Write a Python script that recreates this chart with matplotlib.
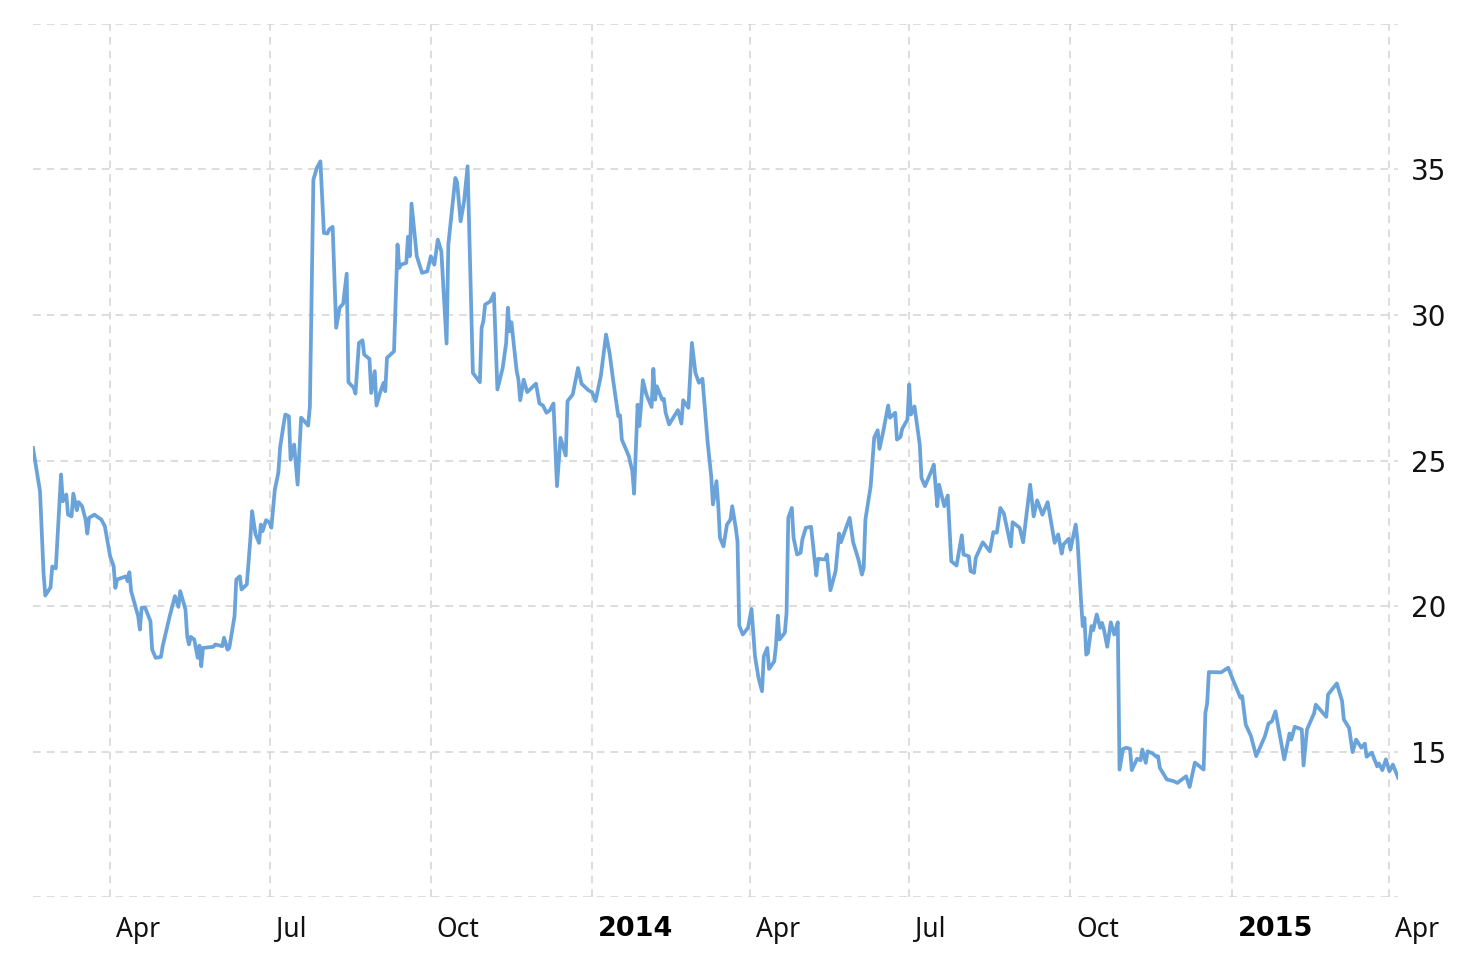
import matplotlib
matplotlib.use("Agg")
import matplotlib.pyplot as plt
import matplotlib.transforms as mtransforms
import pandas as pd

# Series data: trading day offset from 2013-02-15 and closing value
start_date = "2013-02-15"
day_offsets = [
    1, 5, 7, 8, 11, 12, 14, 17, 18, 20, 21, 23, 24, 26, 27, 29, 31, 32, 33, 36,
    40, 42, 45, 47, 48, 49, 54, 55, 56, 57, 61, 62, 63, 65, 68, 69, 71, 74, 75, 77,
    79, 82, 84, 85, 88, 89, 90, 91, 93, 95, 96, 97, 98, 104, 105, 109, 110, 112, 113, 116,
    117, 119, 120, 123, 125, 126, 128, 130, 131, 132, 134, 136, 137, 139, 141, 142, 144, 145, 147, 148,
    150, 152, 154, 155, 158, 159, 161, 163, 165, 167, 169, 170, 172, 174, 176, 178, 180, 181, 184, 185,
    187, 189, 190, 193, 194, 196, 197, 199, 201, 202, 203, 207, 209, 210, 211, 214, 215, 216, 217, 220,
    223, 226, 228, 230, 232, 234, 237, 238, 240, 242, 243, 245, 247, 249, 252, 256, 257, 258, 259, 262,
    264, 266, 269, 271, 272, 273, 274, 277, 278, 279, 281, 283, 288, 290, 292, 294, 296, 298, 300, 302,
    305, 306, 309, 312, 314, 318, 320, 322, 325, 328, 330, 332, 335, 336, 337, 341, 343, 344, 346, 347,
    348, 349, 351, 354, 355, 356, 357, 360, 361, 362, 364, 369, 371, 372, 375, 377, 379, 381, 383, 386,
    388, 389, 391, 392, 393, 395, 397, 399, 400, 402, 403, 404, 406, 409, 411, 413, 415, 417, 418, 420,
    421, 424, 425, 426, 427, 430, 431, 432, 434, 435, 437, 439, 440, 442, 445, 448, 449, 453, 454, 456,
    459, 461, 462, 467, 469, 472, 474, 475, 476, 479, 481, 483, 484, 486, 489, 490, 493, 494, 496, 497,
    500, 501, 502, 504, 507, 508, 510, 514, 515, 517, 518, 521, 523, 525, 528, 531, 532, 535, 536, 538,
    539, 543, 547, 549, 551, 553, 555, 559, 560, 564, 566, 570, 572, 574, 577, 580, 584, 586, 588, 589,
    592, 593, 596, 597, 599, 600, 601, 602, 603, 605, 606, 608, 610, 611, 612, 614, 616, 618, 620, 621,
    623, 625, 627, 628, 631, 633, 634, 636, 637, 640, 642, 643, 644, 648, 652, 654, 659, 661, 664, 669,
    670, 671, 672, 679, 683, 686, 690, 691, 693, 696, 699, 704, 706, 708, 710, 715, 718, 719, 721, 725,
    726, 728, 732, 733, 739, 740, 745, 748, 749, 752, 754, 756, 759, 761, 762, 765, 768, 769, 771, 773,
    775, 777, 780,
]
values = [
    25.43, 23.94, 21.15, 20.36, 20.64, 21.36, 21.29, 24.52, 23.60, 23.83, 23.14, 23.08, 23.86, 23.29, 23.57, 23.43, 22.97, 22.49, 23.03, 23.14,
    22.97, 22.74, 21.71, 21.37, 20.62, 20.91, 21.02, 20.85, 21.16, 20.51, 19.65, 19.19, 19.94, 19.94, 19.48, 18.50, 18.22, 18.25, 18.62, 19.13,
    19.65, 20.34, 19.97, 20.51, 19.88, 18.96, 18.68, 18.94, 18.85, 18.22, 18.64, 17.93, 18.56, 18.60, 18.68, 18.62, 18.91, 18.50, 18.56, 19.65,
    20.91, 21.02, 20.57, 20.74, 22.28, 23.26, 22.46, 22.17, 22.80, 22.57, 22.95, 22.86, 22.69, 24.00, 24.58, 25.45, 26.24, 26.58, 26.52, 25.03,
    25.55, 24.17, 26.47, 26.41, 26.20, 26.86, 34.65, 35.06, 35.28, 32.82, 32.80, 32.94, 33.03, 29.56, 30.25, 30.39, 31.42, 27.69, 27.50, 27.30,
    29.04, 29.13, 28.64, 28.49, 27.32, 28.07, 26.89, 27.32, 27.67, 27.38, 28.53, 28.75, 32.42, 31.62, 31.73, 31.79, 32.69, 32.02, 33.83, 32.02,
    31.45, 31.50, 32.02, 31.73, 32.59, 32.19, 29.02, 32.42, 33.56, 34.71, 34.56, 33.22, 33.91, 35.11, 28.01, 27.69, 29.56, 29.79, 30.36, 30.47,
    30.74, 27.44, 28.18, 29.04, 30.25, 29.44, 29.75, 28.07, 27.78, 27.07, 27.78, 27.35, 27.64, 26.96, 26.89, 26.64, 26.73, 26.96, 24.12, 25.78,
    25.17, 27.04, 27.27, 28.18, 27.64, 27.41, 27.35, 27.04, 27.90, 29.33, 28.70, 27.78, 26.52, 26.55, 25.72, 25.15, 24.63, 23.86, 26.92, 26.18,
    26.92, 27.76, 27.27, 26.84, 28.15, 27.09, 27.55, 27.09, 27.12, 26.64, 26.24, 26.73, 26.27, 27.07, 26.81, 29.04, 28.01, 27.67, 27.81, 25.61,
    24.46, 23.49, 24.29, 23.49, 22.34, 22.05, 22.80, 22.97, 23.43, 22.69, 22.23, 19.33, 19.02, 19.25, 19.90, 18.27, 17.53, 17.07, 18.27, 18.56,
    17.84, 18.10, 18.68, 19.67, 18.85, 19.08, 19.77, 23.03, 23.37, 22.34, 21.77, 21.83, 22.28, 22.69, 22.72, 21.05, 21.62, 21.60, 21.77, 20.54,
    21.20, 22.49, 22.19, 23.03, 22.19, 21.60, 21.08, 21.31, 22.97, 24.12, 25.78, 26.04, 25.40, 25.95, 26.89, 26.47, 26.64, 25.72, 25.81, 26.09,
    26.41, 27.61, 26.58, 26.86, 25.55, 24.40, 24.12, 24.69, 24.86, 23.43, 24.17, 23.43, 23.80, 21.54, 21.39, 22.43, 21.77, 21.71, 21.20, 21.14,
    21.66, 22.19, 21.88, 22.54, 22.52, 23.37, 23.18, 22.05, 22.88, 22.69, 22.19, 24.17, 23.08, 23.63, 23.14, 23.57, 22.17, 22.46, 21.80, 22.11,
    22.31, 21.94, 22.80, 22.28, 20.22, 19.31, 19.59, 18.33, 18.39, 19.31, 19.17, 19.71, 19.25, 19.42, 19.22, 18.60, 19.44, 19.02, 19.44, 14.38,
    15.09, 15.13, 15.09, 14.36, 14.75, 14.70, 15.07, 14.61, 15.01, 14.93, 14.82, 14.84, 14.44, 14.04, 13.98, 13.92, 14.15, 13.78, 14.62, 14.38,
    16.33, 16.65, 17.73, 17.72, 17.88, 17.42, 16.85, 16.90, 15.93, 15.53, 14.84, 15.53, 15.96, 16.04, 16.38, 14.73, 15.62, 15.41, 15.85, 15.76,
    14.52, 15.76, 16.31, 16.61, 16.19, 16.96, 17.34, 16.73, 16.10, 15.81, 14.98, 15.41, 15.13, 15.27, 14.82, 14.96, 14.49, 14.59, 14.36, 14.73,
    14.32, 14.55, 14.10,
]

# Axis ticks
tick_dates = ["2013-04-01", "2013-07-01", "2013-10-01", "2014-01-01", "2014-04-01",
              "2014-07-01", "2014-10-01", "2015-01-01", "2015-04-01"]
tick_labels = ["Apr", "Jul", "Oct", "2014", "Apr", "Jul", "Oct", "2015", "Apr"]
y_ticks = [10, 15, 20, 25, 30, 35, 40]
y_labels = ["", "15", "20", "25", "30", "35", ""]

dates = pd.Timestamp(start_date) + pd.to_timedelta(day_offsets, unit="D")

# Figure base
fig = plt.figure(figsize=(14.8, 9.56), dpi=100)
ax = fig.add_axes([0.0223, 0.0617, 0.9224, 0.9132])

ax.plot(dates, values, color="#6aa3d9", linewidth=2.7, zorder=3)

ax.set_xlim(dates[0], dates[-1])
ax.set_ylim(10, 40)

# Grid and ticks
ax.set_xticks(pd.to_datetime(tick_dates))
ax.set_xticklabels(tick_labels)
ax.set_yticks(y_ticks)
ax.set_yticklabels(y_labels)
ax.yaxis.tick_right()
ax.tick_params(axis="y", length=0, pad=9, labelsize=20, labelcolor="#111111")
ax.tick_params(axis="x", length=0, pad=14, labelsize=19, labelcolor="#111111")
ax.grid(True, color="#d3d3d3", linewidth=1.1, linestyle=(0, (5, 4)), zorder=0)

for spine in ax.spines.values():
    spine.set_visible(False)

# Labels sit to the right of their gridline, years in bold
offset = mtransforms.ScaledTranslation(6 / 100, 0, fig.dpi_scale_trans)
for label in ax.get_xticklabels():
    label.set_horizontalalignment("left")
    label.set_transform(label.get_transform() + offset)
    if label.get_text().isdigit():
        label.set_family("DejaVu Sans")
        label.set_fontweight("bold")
        label.set_fontsize(19.5)
        label.set_color("#000000")
    else:
        label.set_family("Noto Sans")

fig.savefig("out.png", dpi=100, facecolor="white")
